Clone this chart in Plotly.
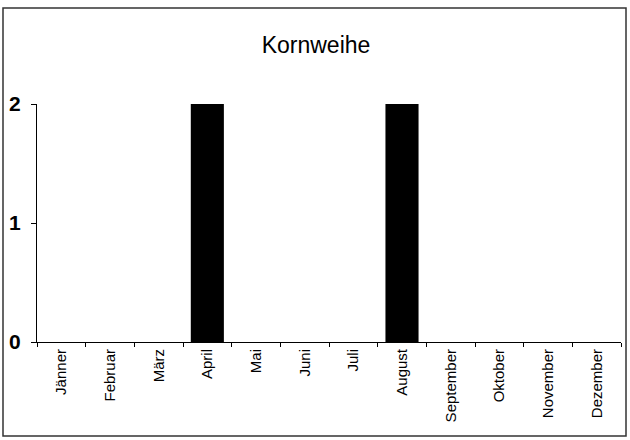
import plotly.graph_objects as go

months = ["Jänner", "Februar", "März", "April", "Mai", "Juni", "Juli",
          "August", "September", "Oktober", "November", "Dezember"]
counts = [0, 0, 0, 2, 0, 0, 0, 2, 0, 0, 0, 0]
y_ticks = [0, 1, 2]

W, H = 630, 440
L, R, T, B = 37, 9, 104, 98
pw, ph = W - L - R, H - T - B

fig = go.Figure()
fig.add_trace(go.Bar(x=months, y=counts, marker_color="black",
                     marker_line_width=0, width=0.68))

fig.update_layout(
    width=W, height=H,
    margin=dict(l=L, r=R, t=T, b=B, autoexpand=False),
    plot_bgcolor="white", paper_bgcolor="white",
    showlegend=False,
    title=dict(text="Kornweihe", x=(316 - L) / pw, xref="paper", xanchor="center",
               y=1 - 45 / H, yanchor="middle",
               font=dict(family="Arial", size=23, color="black")),
    xaxis=dict(
        type="category", tickson="boundaries", ticks="outside", ticklen=4,
        tickcolor="black", showline=True, linecolor="black", linewidth=1,
        showgrid=False, tickangle=-90, automargin=False,
        tickfont=dict(family="Arial", size=15, color="black"),
    ),
    yaxis=dict(
        range=[0, 2], tickvals=y_ticks, ticks="outside", ticklen=5,
        tickcolor="black", showline=True, linecolor="black", linewidth=1,
        showgrid=False, zeroline=False, ticklabelstandoff=6, automargin=False,
        tickfont=dict(family="Arial", size=21, color="black", weight="bold"),
    ),
    shapes=[dict(type="rect", xref="paper", yref="paper",
                 x0=(3 - L) / pw, x1=(626 - L) / pw,
                 y0=(H - B - 436) / ph, y1=(H - B - 8) / ph,
                 line=dict(color="#333", width=1.5))],
)

fig.write_html("out.html", config={"displayModeBar": False},
               post_script="document.body.style.margin='0';")
